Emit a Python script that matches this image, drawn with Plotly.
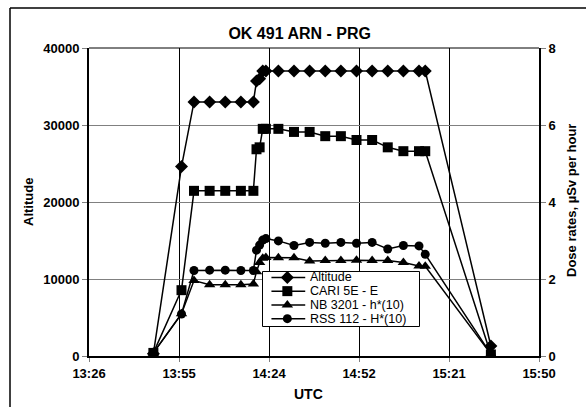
import plotly.graph_objects as go

# ---- data ----
times = ["13:47", "13:56", "14:00", "14:05", "14:10", "14:15", "14:19", "14:20",
         "14:21", "14:22", "14:23", "14:27", "14:32", "14:37", "14:42", "14:47",
         "14:52", "14:57", "15:02", "15:07", "15:12", "15:14", "15:35"]
altitude = [300, 24600, 33000, 33000, 33000, 33000, 33000, 35700,
            36000, 37000, 37000, 37000, 37000, 37000, 37000, 37000,
            37000, 37000, 37000, 37000, 37000, 37000, 1300]
cari = [0.08, 1.71, 4.29, 4.29, 4.29, 4.29, 4.29, 5.37,
        5.42, 5.90, 5.90, 5.90, 5.82, 5.82, 5.71, 5.71,
        5.61, 5.61, 5.42, 5.32, 5.32, 5.32, 0.04]
nb = [0.08, 1.10, 1.96, 1.85, 1.85, 1.85, 1.87, 2.19,
      2.43, 2.54, 2.56, 2.55, 2.55, 2.47, 2.48, 2.48,
      2.49, 2.48, 2.48, 2.43, 2.34, 2.33, 0.05]
rss = [0.08, 1.09, 2.22, 2.23, 2.23, 2.22, 2.22, 2.75,
       2.88, 3.01, 3.05, 2.99, 2.87, 2.95, 2.93, 2.95,
       2.93, 2.95, 2.78, 2.87, 2.86, 2.64, 0.05]
series_names = ["Altitude", "CARI 5E - E", "NB 3201 - h*(10)", "RSS 112 - H*(10)"]
series_symbols = ["diamond", "square", "triangle-up", "circle"]
series_sizes = [10, 10, 10, 9]
x_tick_labels = ["13:26", "13:55", "14:24", "14:52", "15:21", "15:50"]
x_tick_days = [0.56, 0.58, 0.60, 0.62, 0.64, 0.66]  # Excel day fractions
y_left_ticks = [0, 10000, 20000, 30000, 40000]
y_right_ticks = [0, 2, 4, 6, 8]


def to_min(t):
    h, m = t.split(":")
    return int(h) * 60 + int(m)


x = [to_min(t) for t in times]
x_ticks = [d * 24 * 60 for d in x_tick_days]

FONT = "Liberation Sans, Arial, sans-serif"
W, H = 586, 407
PL, PR, PT, PB = 89, 539, 48, 356  # plot area in pixels
PW, PH = PR - PL, PB - PT


def px(xp):
    return (xp - PL) / PW


def py(yp):
    return (PB - yp) / PH


line = dict(color="black", width=1.5)
values = [altitude, cari, nb, rss]
axes = ["y", "y2", "y2", "y2"]

fig = go.Figure()
for name, sym, sz, vals, ax in zip(series_names, series_symbols, series_sizes, values, axes):
    fig.add_trace(go.Scatter(x=x, y=vals, name=name, mode="lines+markers", yaxis=ax,
                             line=line, showlegend=False,
                             marker=dict(symbol=sym, size=sz, color="black")))

# ---- legend, drawn in its own small subplot (pixel-like units) ----
LX0, LX1, LY0, LY1 = 262, 420, 271, 327
LW, LH = LX1 - LX0, LY1 - LY0
fig.add_trace(go.Scatter(x=[0, LW, LW, 0, 0], y=[0, 0, LH, LH, 0], mode="lines",
                         fill="toself", fillcolor="white",
                         line=dict(color="black", width=1),
                         xaxis="x3", yaxis="y3", showlegend=False, hoverinfo="skip"))
row_y = [6, 20, 34, 48]
for name, sym, sz, ry in zip(series_names, series_symbols, series_sizes, row_y):
    fig.add_trace(go.Scatter(x=[9, 43], y=[ry, ry], mode="lines",
                             xaxis="x3", yaxis="y3", showlegend=False, hoverinfo="skip",
                             line=line))
    fig.add_trace(go.Scatter(x=[25], y=[ry], mode="markers",
                             xaxis="x3", yaxis="y3", showlegend=False, hoverinfo="skip",
                             marker=dict(symbol=sym, size=sz, color="black")))

tickfont = dict(family=FONT, size=13, color="black", weight="bold")
ann = []
for name, ry in zip(series_names, row_y):
    ann.append(dict(text=name, xref="x3", yref="y3", x=46, y=ry, showarrow=False,
                    xanchor="left", yanchor="middle",
                    font=dict(family=FONT, size=12.5, color="black")))
ann += [
    dict(text="UTC", xref="paper", yref="paper", x=px(308.7), y=py(393.5),
         showarrow=False, xanchor="center", yanchor="middle",
         font=dict(family=FONT, size=14, color="black", weight="bold")),
    dict(text="Altitude", xref="paper", yref="paper", x=px(28), y=0.5,
         showarrow=False, textangle=-90, xanchor="center", yanchor="middle",
         font=dict(family=FONT, size=13, color="black", weight="bold")),
    dict(text="Dose rates, µSv per hour", xref="paper", yref="paper", x=px(571),
         y=py(201), showarrow=False, textangle=-90, xanchor="center", yanchor="middle",
         font=dict(family=FONT, size=13, color="black", weight="bold")),
]

fig.update_layout(
    width=W, height=H,
    margin=dict(l=PL, r=W - PR, t=PT, b=H - PB),
    paper_bgcolor="white", plot_bgcolor="white",
    showlegend=False,
    xaxis=dict(range=[x_ticks[0], x_ticks[-1]], tickvals=x_ticks, ticktext=x_tick_labels,
               showgrid=True, gridcolor="black", gridwidth=1,
               showline=True, linecolor="black", linewidth=2,
               ticks="outside", ticklen=4, tickcolor="gray",
               tickfont=tickfont, zeroline=False, automargin=False),
    yaxis=dict(range=[0, 40000], tickvals=y_left_ticks,
               ticktext=[str(v) for v in y_left_ticks],
               showgrid=True, gridcolor="#808080", gridwidth=1,
               showline=True, linecolor="black", linewidth=2,
               ticks="outside", ticklen=5, tickcolor="gray",
               tickfont=tickfont, zeroline=False, automargin=False),
    yaxis2=dict(range=[0, 8], tickvals=y_right_ticks, overlaying="y", side="right",
                showgrid=False, showline=True, linecolor="black", linewidth=2,
                ticks="outside", ticklen=5, tickcolor="gray",
                tickfont=tickfont, zeroline=False, automargin=False),
    xaxis3=dict(domain=[px(LX0), px(LX1)], range=[-0.5, LW + 0.5], visible=False,
                anchor="y3", fixedrange=True),
    yaxis3=dict(domain=[py(LY1), py(LY0)], range=[LH + 0.5, -0.5], visible=False,
                anchor="x3", fixedrange=True),
    title=dict(text="OK 491 ARN - PRG", x=299.7 / W, xref="container", xanchor="center",
               y=1 - 33 / H, yref="container", yanchor="middle",
               font=dict(family=FONT, size=16, color="black", weight="bold")),
    annotations=ann,
    shapes=[
        # top border of the plot area
        dict(type="line", xref="paper", yref="paper", x0=0, x1=1, y0=1, y1=1,
             line=dict(color="black", width=1)),
        # outer chart frame (left and top edges)
        dict(type="line", xref="paper", yref="paper", x0=px(10), x1=px(10),
             y0=-1, y1=py(8), line=dict(color="black", width=1.5)),
        dict(type="line", xref="paper", yref="paper", x0=px(10), x1=2,
             y0=py(8), y1=py(8), line=dict(color="black", width=1.5)),
    ],
)

fig.write_html("out.html", config={"displayModeBar": False},
               post_script="document.body.style.margin='0';")
